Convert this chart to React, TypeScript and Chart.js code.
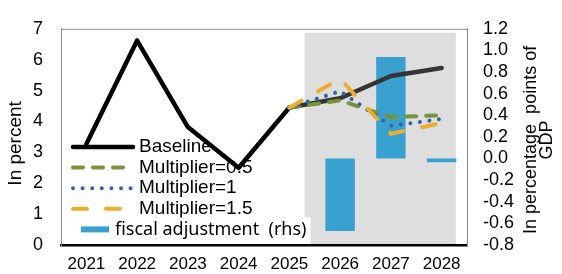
import React, { useEffect, useRef } from 'react';
import { Chart, registerables } from 'chart.js';

Chart.register(...registerables);

const years = ['2021', '2022', '2023', '2024', '2025', '2026', '2027', '2028'];
const baseline = [3.27, 6.62, 3.82, 2.5, 4.45, 4.75, 5.47, 5.73];
const multiplier05 = [null, null, null, null, 4.45, 4.68, 4.14, 4.2];
const multiplier1 = [null, null, null, null, 4.45, 4.98, 3.86, 4.08];
const multiplier15 = [null, null, null, null, 4.45, 5.38, 3.6, 3.95];
const fiscalAdjustment = [null, null, null, null, null, -0.67, 0.94, -0.035];

const leftMin = 0;
const leftMax = 7;
const leftStep = 1;
const rightMin = -0.8;
const rightMax = 1.2;
const rightStep = 0.2;

// projection shading, in category units / left-axis units
const shadeFrom = 4.3;
const shadeTo = 7.28;
const shadeTop = 6.87;

const leftTitle = 'In percent';
const rightTitle = ['In percentage  points of', 'GDP'];

const FONT = '"Liberation Sans", Arial, sans-serif';

const decorPlugin = {
  id: 'decor',
  beforeDraw(chart: any) {
    const { ctx, chartArea: a, scales } = chart;
    const xs = scales.x;
    const ys = scales.y;
    ctx.save();
    // shaded projection area
    const x0 = xs.getPixelForValue(shadeFrom);
    const x1 = xs.getPixelForValue(shadeTo);
    const yt = ys.getPixelForValue(shadeTop);
    ctx.fillStyle = '#dedede';
    ctx.fillRect(x0, yt, x1 - x0, a.bottom - yt);
    // top frame line
    ctx.strokeStyle = '#8c8c8c';
    ctx.lineWidth = 1;
    ctx.beginPath();
    ctx.moveTo(a.left, a.top + 0.5);
    ctx.lineTo(a.right, a.top + 0.5);
    ctx.stroke();

    // legend inside plot, lower left
    const ds = chart.data.datasets;
    const rowStep = 20.6;
    const firstRow = a.bottom - 98;
    const sampleX0 = a.left + 12;
    const sampleX1 = a.left + 72;
    const textX = a.left + 78;
    ds.forEach((d: any, i: number) => {
      const yRow = firstRow + i * rowStep;
      if (d.type === 'bar') {
        ctx.font = '18px "Noto Sans", sans-serif';
        const tx = a.left + 54;
        const w = ctx.measureText(d.label).width;
        ctx.fillStyle = '#ffffff';
        ctx.fillRect(tx - 2, yRow - 12, w + 6, a.bottom - (yRow - 12) - 1);
        ctx.fillStyle = d.backgroundColor;
        ctx.fillRect(a.left + 20, yRow - 3, 28, 6);
        ctx.fillStyle = '#000';
        ctx.textAlign = 'left';
        ctx.textBaseline = 'middle';
        ctx.fillText(d.label, tx, yRow);
      } else {
        ctx.save();
        ctx.setLineDash(d.borderDash || []);
        ctx.lineCap = d.borderCapStyle || 'butt';
        ctx.lineWidth = d.borderWidth;
        ctx.strokeStyle = d.legendColor || d.borderColor;
        ctx.beginPath();
        ctx.moveTo(sampleX0, yRow);
        ctx.lineTo(sampleX1, yRow);
        ctx.stroke();
        ctx.restore();
        ctx.font = '19px ' + FONT;
        ctx.fillStyle = '#000';
        ctx.textAlign = 'left';
        ctx.textBaseline = 'middle';
        ctx.fillText(d.label, textX, yRow);
      }
    });
    ctx.restore();
  },
  afterDraw(chart: any) {
    const { ctx, chartArea: a } = chart;
    ctx.save();
    ctx.fillStyle = '#000';
    ctx.textAlign = 'center';
    ctx.textBaseline = 'middle';
    // left title
    ctx.font = '19px ' + FONT;
    ctx.save();
    ctx.translate(15.5, (a.top + a.bottom) / 2 + 6.5);
    ctx.rotate(-Math.PI / 2);
    ctx.fillText(leftTitle, 0, 0);
    ctx.restore();
    // right title, reading bottom-to-top
    ctx.font = '18px ' + FONT;
    ctx.save();
    ctx.translate(a.right + 64, (a.top + a.bottom) / 2 + 3);
    ctx.rotate(-Math.PI / 2);
    rightTitle.forEach((t, i) => ctx.fillText(t, 0, i * 16.5));
    ctx.restore();
    ctx.restore();
  },
};

export default function App() {
  const canvasRef = useRef<HTMLCanvasElement | null>(null);

  useEffect(() => {
    document.body.style.margin = '0';
    const canvas = canvasRef.current;
    if (!canvas) return;
    Chart.defaults.color = '#000';
    Chart.defaults.font.family = FONT;

    const chart = new Chart(canvas, {
      type: 'bar',
      data: {
        labels: years,
        datasets: [
          {
            type: 'line',
            label: 'Baseline',
            data: baseline,
            borderColor: '#000000',
            legendColor: '#000000',
            borderWidth: 4.5,
            borderCapStyle: 'round',
            borderJoinStyle: 'round',
            pointRadius: 0,
            tension: 0,
            yAxisID: 'y',
            order: 4,
            segment: {
              borderColor: (c: any) => (c.p0DataIndex >= 4 ? '#353535' : '#000000'),
            },
          } as any,
          {
            type: 'line',
            label: 'Multiplier=0.5',
            data: multiplier05,
            borderColor: '#76953a',
            borderWidth: 4,
            borderDash: [10, 10],
            borderCapStyle: 'round',
            borderJoinStyle: 'round',
            pointRadius: 0,
            tension: 0,
            yAxisID: 'y',
            order: 3,
          },
          {
            type: 'line',
            label: 'Multiplier=1',
            data: multiplier1,
            borderColor: '#2f64a6',
            borderWidth: 4,
            borderDash: [0.001, 9.6],
            borderCapStyle: 'round',
            borderJoinStyle: 'round',
            pointRadius: 0,
            tension: 0,
            yAxisID: 'y',
            order: 2,
          },
          {
            type: 'line',
            label: 'Multiplier=1.5',
            data: multiplier15,
            borderColor: '#ecae2c',
            borderWidth: 4,
            borderDash: [14, 19],
            borderCapStyle: 'round',
            borderJoinStyle: 'round',
            pointRadius: 0,
            tension: 0,
            yAxisID: 'y',
            order: 1,
          },
          {
            type: 'bar',
            label: 'fiscal adjustment  (rhs)',
            data: fiscalAdjustment,
            backgroundColor: '#39a1d0',
            borderWidth: 0,
            barPercentage: 0.58,
            categoryPercentage: 1,
            yAxisID: 'y1',
            order: 5,
          },
        ],
      } as any,
      options: {
        responsive: false,
        animation: false,
        devicePixelRatio: 1,
        layout: { padding: { top: 23, left: 0, right: 0, bottom: 0 } },
        plugins: {
          legend: { display: false },
          tooltip: { enabled: false },
        },
        scales: {
          x: {
            offset: true,
            grid: { display: false, drawTicks: false },
            border: { display: true, color: '#000000', width: 2.5 },
            ticks: { font: { size: 17, family: FONT }, color: '#000', padding: 9, maxRotation: 0, autoSkip: false },
            afterFit: (s: any) => {
              s.height = 29;
            },
          },
          y: {
            position: 'left',
            min: leftMin,
            max: leftMax,
            grid: { display: false, drawTicks: false },
            border: { display: true, color: '#8c8c8c', width: 1 },
            ticks: { stepSize: leftStep, font: { size: 18, family: FONT }, color: '#000', padding: 18, autoSkip: false },
            afterFit: (s: any) => {
              s.width = 61;
            },
          },
          y1: {
            position: 'right',
            min: rightMin,
            max: rightMax,
            grid: { display: false, drawTicks: false },
            border: { display: true, color: '#8c8c8c', width: 1 },
            ticks: {
              stepSize: rightStep,
              autoSkip: false,
              font: { size: 18, family: FONT },
              color: '#000',
              padding: 16,
              callback: (v: any) => {
                const n = Number(v);
                return Math.abs(n) < 1e-9 ? '0.0' : n.toFixed(1);
              },
            },
            afterFit: (s: any) => {
              s.width = 95;
            },
          },
        },
      },
      plugins: [decorPlugin],
    });

    return () => {
      chart.destroy();
    };
  }, []);

  return (
    <div style={{ width: 562, height: 274, position: 'relative' }}>
      <canvas ref={canvasRef} width={562} height={274} style={{ display: 'block' }} />
    </div>
  );
}
